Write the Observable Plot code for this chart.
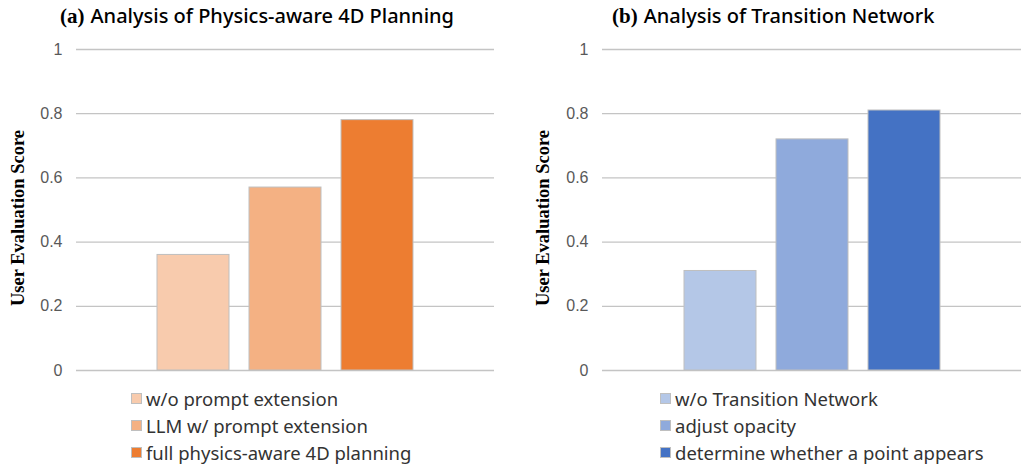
<!DOCTYPE html>
<html><head><meta charset="utf-8">
<script src="https://cdn.jsdelivr.net/npm/d3@7"></script>
<script src="https://cdn.jsdelivr.net/npm/@observablehq/plot@0.6"></script>
<style>
body{margin:0;background:#fff;}
#root{position:relative;width:1021px;height:465px;overflow:hidden;}
.panel{position:absolute;top:0;height:465px;}
.panel svg{position:absolute;top:0;left:0;}
.title{position:absolute;top:2px;white-space:nowrap;color:#000;}
.title .tag{font-family:"Liberation Serif";font-weight:bold;font-size:21px;margin-right:6px;}
.title .txt{font-family:"Noto Sans";font-weight:500;font-size:20px;}
.legend{position:absolute;top:385px;font-family:"Noto Sans";font-size:18.5px;color:#333;}
.legend .row{display:flex;align-items:center;height:27px;white-space:nowrap;}
.legend .sw{width:11px;height:11px;border:1px solid #bfbfbf;box-sizing:border-box;margin-right:4px;}
</style>
</head><body>
<div id="root"></div>
<script>
const scoreLabel = "User Evaluation Score";
const yTicks = [0, 0.2, 0.4, 0.6, 0.8, 1];

const planningTag = "(a)";
const planningTitle = "Analysis of Physics-aware 4D Planning";
const planningCategories = ["w/o prompt extension", "LLM w/ prompt extension", "full physics-aware 4D planning"];
const planningScores = [0.36, 0.57, 0.78];
const planningColors = ["#F8CBAD", "#F4B183", "#ED7D31"];

const transitionTag = "(b)";
const transitionTitle = "Analysis of Transition Network";
const transitionCategories = ["w/o Transition Network", "adjust opacity", "determine whether a point appears"];
const transitionScores = [0.31, 0.72, 0.81];
const transitionColors = ["#B4C7E7", "#8FAADC", "#4472C4"];

function makePanel(cfg) {
  const panel = document.createElement("div");
  panel.className = "panel";
  panel.style.left = cfg.left + "px";
  panel.style.width = cfg.width + "px";

  const data = cfg.categories.map((c, i) => ({category: c, score: cfg.scores[i]}));

  const chart = Plot.plot({
    width: cfg.width,
    height: 385,
    marginTop: 49,
    marginBottom: 15,
    marginLeft: cfg.marginLeft,
    marginRight: cfg.marginRight,
    style: {fontFamily: "Liberation Sans", background: "transparent"},
    x: {domain: cfg.categories, paddingInner: 0.22, paddingOuter: 0.87, axis: null},
    y: {domain: [0, 1]},
    color: {domain: cfg.categories, range: cfg.colors},
    marks: [
      Plot.gridY(yTicks, {stroke: "#c4c4c4", strokeOpacity: 1, strokeWidth: 1.3}),
      Plot.barY(data, {x: "category", y: "score", fill: "category", stroke: "#bfbfbf", strokeWidth: 1}),
      Plot.axisY(yTicks, {tickSize: 0, tickPadding: 14, fontSize: 16, color: "#595959", tickFormat: d => String(d), label: null}),
      Plot.text([scoreLabel], {text: d => d, frameAnchor: "left", rotate: -90, dx: cfg.labelDx, dy: 8,
        fontSize: 18.5, fontWeight: "bold", fontFamily: "Liberation Serif", fill: "#000", textAnchor: "middle"})
    ]
  });
  panel.appendChild(chart);

  const title = document.createElement("div");
  title.className = "title";
  title.style.left = cfg.titleLeft + "px";
  const tag = document.createElement("span"); tag.className = "tag"; tag.textContent = cfg.tag;
  const txt = document.createElement("span"); txt.className = "txt"; txt.textContent = cfg.title;
  title.appendChild(tag); title.appendChild(txt);
  panel.appendChild(title);

  const legend = document.createElement("div");
  legend.className = "legend";
  legend.style.left = cfg.legendLeft + "px";
  cfg.categories.forEach((c, i) => {
    const row = document.createElement("div"); row.className = "row";
    const sw = document.createElement("span"); sw.className = "sw"; sw.style.background = cfg.colors[i];
    const lab = document.createElement("span"); lab.textContent = c;
    row.appendChild(sw); row.appendChild(lab);
    legend.appendChild(row);
  });
  panel.appendChild(legend);
  return panel;
}

const root = document.getElementById("root");
root.appendChild(makePanel({left: 0, width: 510, marginLeft: 76, marginRight: 16, labelDx: -58,
  categories: planningCategories, scores: planningScores, colors: planningColors,
  tag: planningTag, title: planningTitle, titleLeft: 60, legendLeft: 131}));
root.appendChild(makePanel({left: 510, width: 511, marginLeft: 92, marginRight: 0, labelDx: -59,
  categories: transitionCategories, scores: transitionScores, colors: transitionColors,
  tag: transitionTag, title: transitionTitle, titleLeft: 102, legendLeft: 150}));
</script>
</body></html>
